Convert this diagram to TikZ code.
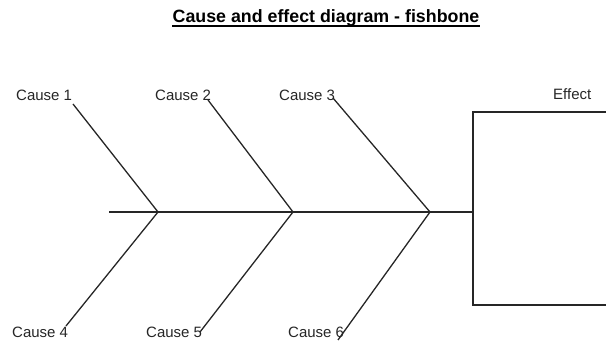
\documentclass[tikz,border=0pt]{standalone}
\usepackage{fontspec}
\setmainfont{Liberation Sans}
\begin{document}
\begin{tikzpicture}[x=1pt,y=-1pt,
  lbl/.style={anchor=base west,inner sep=0pt,font=\fontsize{15}{18}\selectfont,text=black!85},
  bone/.style={line width=1.3pt,draw=black!85},
  ttl/.style={anchor=base,inner sep=0pt,font=\fontsize{17.8}{20}\selectfont\bfseries}]
\useasboundingbox (0,0) rectangle (606,344);
\node[ttl] (title) at (326,23) {Cause and effect diagram - fishbone};
\draw[line width=1.1pt] ([yshift=-3pt]title.base west) -- ([yshift=-3pt]title.base east);
% labels
\node[lbl] (c1) at (16,101) {Cause 1};
\node[lbl] (c2) at (155,101) {Cause 2};
\node[lbl] (c3) at (279,101) {Cause 3};
\node[lbl] (c4) at (12,338) {Cause 4};
\node[lbl] (c5) at (146,338) {Cause 5};
\node[lbl] (c6) at (288,338) {Cause 6};
\node[lbl] (eff) at (553,100) {Effect};
% spine
\coordinate (tail) at (109,212);
\coordinate (j1) at (158,212);
\coordinate (j2) at (293,212);
\coordinate (j3) at (430,212);
\coordinate (head) at (473,212);
% bone ends
\coordinate (e1) at (73,104);
\coordinate (e2) at (208,100);
\coordinate (e3) at (333,98);
\coordinate (e4) at (66,326);
\coordinate (e5) at (200,332);
\coordinate (e6) at (338,340);
\draw[bone] (tail) -- (head);
\draw[bone] (e1) -- (j1) -- (e4);
\draw[bone] (e2) -- (j2) -- (e5);
\draw[bone] (e3) -- (j3) -- (e6);
% effect box
\coordinate (bt) at (606,112);
\coordinate (btl) at (473,112);
\coordinate (bbl) at (473,305);
\coordinate (bb) at (606,305);
\draw[bone] (bt) -- (btl) -- (bbl) -- (bb);
\end{tikzpicture}
\end{document}
